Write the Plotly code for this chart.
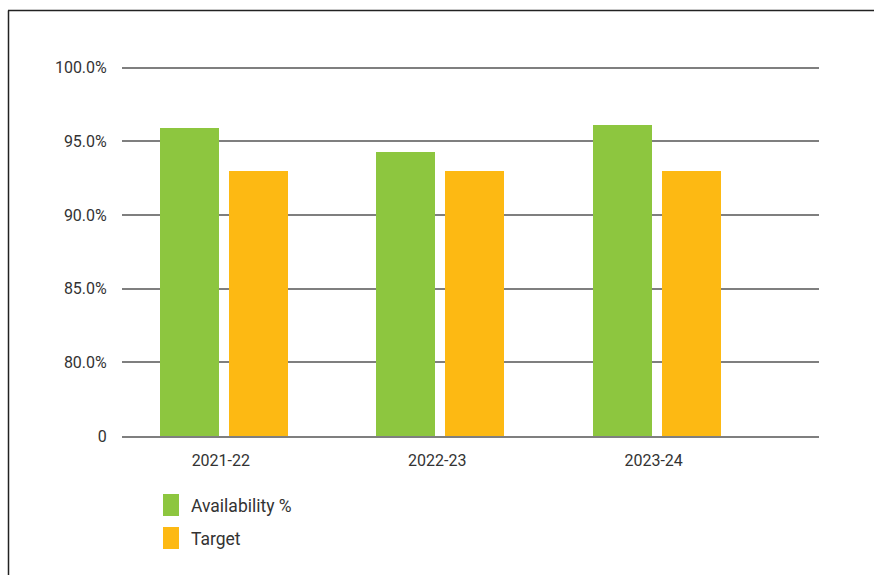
import plotly.graph_objects as go

categories = ["2021-22", "2022-23", "2023-24"]
availability = [95.9, 94.3, 96.1]
target = [93.0, 93.0, 93.0]
series_names = ["Availability %", "Target"]
y_tick_values = [75, 80, 85, 90, 95, 100]
y_tick_labels = ["0", "80.0%", "85.0%", "90.0%", "95.0%", "100.0%"]

GREEN = "#8DC63F"
ORANGE = "#FDB913"
FONT = "Roboto"
TXT = "#333333"
GRID = "#7f7f7f"

# body margin is removed by post_script, so page pixels == figure pixels
O = 0

x_pos = list(range(len(categories)))

fig = go.Figure()
fig.add_trace(go.Bar(x=x_pos, y=availability, name=series_names[0],
                     marker=dict(color=GREEN, line=dict(width=0)),
                     width=0.2725, offset=-0.281, showlegend=False))
fig.add_trace(go.Bar(x=x_pos, y=target, name=series_names[1],
                     marker=dict(color=ORANGE, line=dict(width=0)),
                     width=0.2725, offset=0.038, showlegend=False))

W, H = 874, 575
P_L, P_R = 122, 819
P_Y75, P_Y100 = 436, 67.7
ppu = (P_Y75 - P_Y100) / 25.0
ytop_val = 100.25
P_T = P_Y100 - (ytop_val - 100) * ppu

ml = P_L - O
mr = W - (P_R - O)
mt = P_T - O
mb = H - (P_Y75 - O)
pw = W - ml - mr
ph = H - mt - mb

def px_x(px):
    return (px - O - ml) / pw

def px_y(py):
    return (H - mb - (py - O)) / ph

fig.update_layout(
    width=W, height=H,
    margin=dict(l=ml, r=mr, t=mt, b=mb, pad=0),
    paper_bgcolor="white", plot_bgcolor="white",
    font=dict(family=FONT, size=16, color=TXT),
    xaxis=dict(range=[-0.4566, 2.764], tickvals=x_pos, ticktext=categories,
               showgrid=False, zeroline=False,
               showline=True, linecolor=GRID, linewidth=1.6,
               ticks="outside", ticklen=9, tickcolor="rgba(0,0,0,0)",
               tickfont=dict(family=FONT, size=16, color=TXT)),
    yaxis=dict(range=[75, ytop_val], tickvals=y_tick_values, ticktext=y_tick_labels,
               showgrid=True, gridcolor=GRID, gridwidth=1.6,
               zeroline=False, showline=False,
               ticks="outside", ticklen=11, tickcolor="rgba(0,0,0,0)",
               tickfont=dict(family=FONT, size=16, color=TXT)),
    bargap=0, showlegend=False,
)

# frame (top and left page border)
fig.add_shape(type="line", xref="paper", yref="paper",
              x0=px_x(8), x1=px_x(874), y0=px_y(10.5), y1=px_y(10.5),
              line=dict(color="#222222", width=1.5))
fig.add_shape(type="line", xref="paper", yref="paper",
              x0=px_x(8.5), x1=px_x(8.5), y0=px_y(10.5), y1=px_y(575),
              line=dict(color="#222222", width=1.5))

# custom legend
legend_items = [(series_names[0], GREEN, 494, 516), (series_names[1], ORANGE, 527, 549)]
for name, color, top, bot in legend_items:
    fig.add_shape(type="rect", xref="paper", yref="paper",
                  x0=px_x(163), x1=px_x(179), y0=px_y(bot), y1=px_y(top),
                  fillcolor=color, line=dict(width=0))
    fig.add_annotation(xref="paper", yref="paper", x=px_x(188.5), y=px_y((top + bot) / 2 + 1),
                       text=name, showarrow=False, xanchor="left", yanchor="middle",
                       font=dict(family=FONT, size=17.5, color=TXT))

fig.write_html(
    "out.html",
    config={"displayModeBar": False},
    post_script="document.documentElement.style.overflow='hidden';"
                "document.body.style.margin='0';document.body.style.overflow='hidden';",
)
